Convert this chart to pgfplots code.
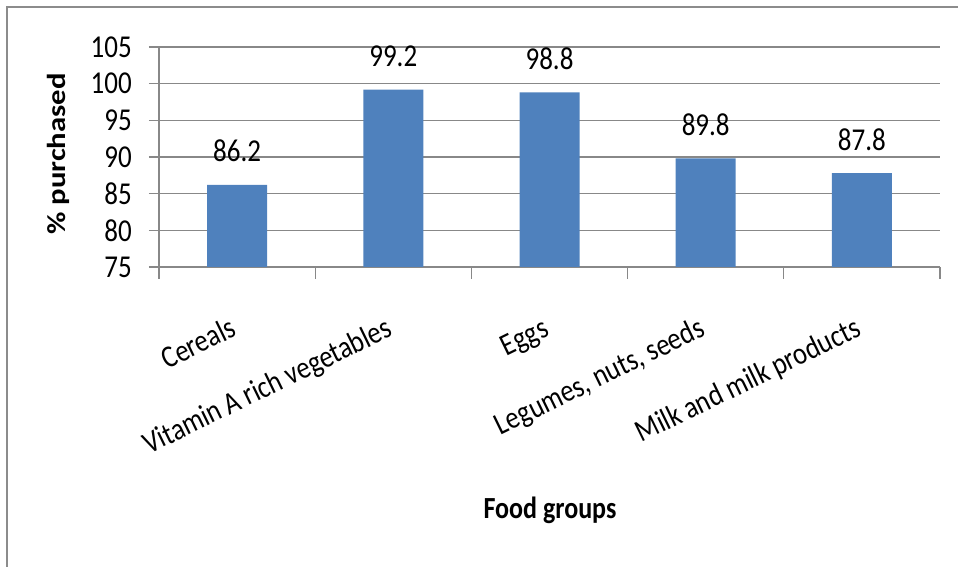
\documentclass[border=0pt]{standalone}
\usepackage{pgfplots}
\pgfplotsset{compat=1.18}
\usepackage{graphicx}
\usepackage{fontspec}
\setmainfont{Carlito}
\definecolor{barblue}{HTML}{4F81BD}
\definecolor{gridgray}{HTML}{888888}
\definecolor{framegray}{HTML}{8C8C8C}
\newcommand{\tk}[1]{\scalebox{1}[1.18]{#1}}
\begin{document}
\begin{tikzpicture}[x=1pt,y=1pt]
\path[use as bounding box] (0,0) rectangle (958,567);
\draw[framegray, line width=2pt] (7,0) -- (7,560) -- (958,560);
\begin{axis}[
  at={(159pt,300pt)}, anchor=south west,
  scale only axis, width=781pt, height=220pt,
  xmin=-0.5, xmax=4.5, ymin=75, ymax=105,
  ytick={75,80,...,105},
  xtick={0,1,2,3,4},
  xticklabels={\tk{Cereals},\tk{Vitamin A rich vegetables},\tk{Eggs},\tk{Legumes, nuts, seeds},\tk{Milk and milk products}},
  minor xtick={-0.5,0.5,...,4.5},
  axis x line*=bottom, axis y line*=left,
  axis line style={gridgray, line width=1.3pt, -},
  ymajorgrids, grid style={gridgray, line width=1.3pt},
  tick align=outside,
  major tick length=10pt, minor tick length=12pt,
  xtick style={draw=none},
  minor x tick style={draw=gridgray, line width=1.3pt},
  ytick style={gridgray, line width=1.3pt},
  /pgf/number format/assume math mode=true,
  tick label style={font=\fontsize{27}{32}\selectfont, text=black},
  yticklabel={\tk{\pgfmathprintnumber{\tick}}},
  yticklabel style={anchor=east, inner sep=0pt, xshift=-17pt},
  xticklabel style={yshift=-58pt, xshift=1pt, anchor=base east, rotate=26, inner sep=0pt, font=\fontsize{26.5}{30}\selectfont},
  clip=false,
]
\addplot[ybar, bar width=60pt, fill=barblue, draw=none,
  nodes near coords={\tk{\pgfmathprintnumber[fixed,precision=1]{\pgfplotspointmeta}}},
  every node near coord/.append style={anchor=base, yshift=23pt, font=\fontsize{27}{32}\selectfont, text=black, inner sep=0pt}]
coordinates {(0,86.2) (1,99.2) (2,98.8) (3,89.8) (4,87.8)};
\end{axis}
\node[rotate=90, font=\bfseries\fontsize{26}{30}\selectfont] at (58,413) {\scalebox{1.18}[1]{\% purchased}};
\node[font=\bfseries\fontsize{26}{30}\selectfont] at (550,57) {\tk{Food groups}};
\end{tikzpicture}
\end{document}
